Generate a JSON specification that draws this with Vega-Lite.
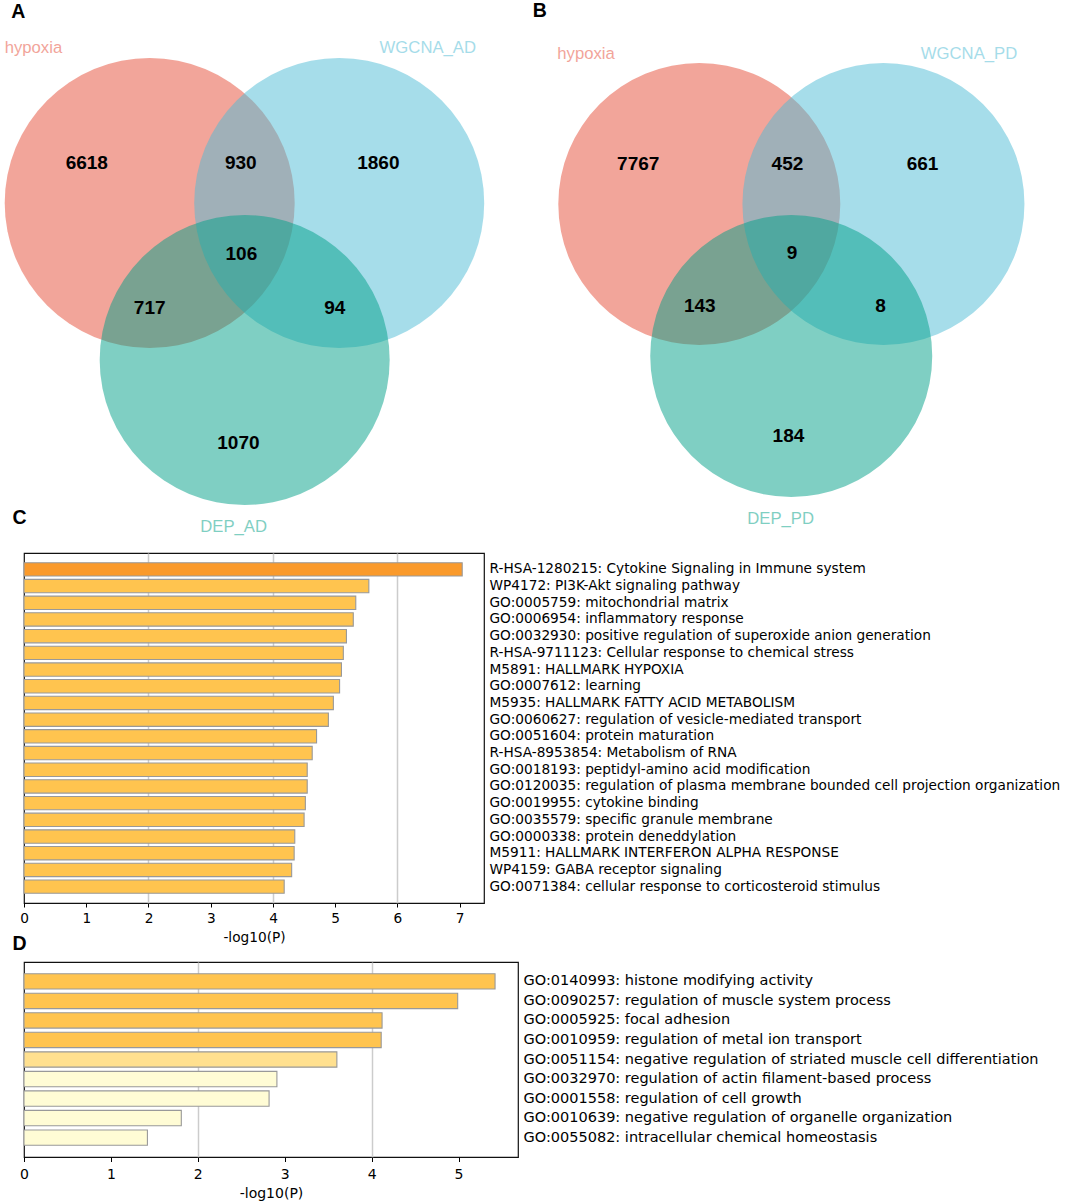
{
  "$schema": "https://vega.github.io/schema/vega-lite/v6.json",
  "background": "white",
  "padding": {"left": 4, "top": 0, "right": 0, "bottom": 3},
  "config": {
    "view": {"stroke": null},
    "axis": {"labelFont": "DejaVu Sans", "titleFont": "DejaVu Sans", "labelColor": "#000", "titleColor": "#000", "tickColor": "#000", "titleFontWeight": "normal"},
    "title": {"font": "Liberation Sans", "fontWeight": "bold", "fontSize": 19.5, "color": "#000", "anchor": "start", "frame": "group", "baseline": "alphabetic"}
  },
  "datasets": {
    "panelsA": [{"panel": "A", "x": -0.955, "y": 1.2738}],
    "setsA": [
      {"set": "hypoxia", "x": 0, "y": 0},
      {"set": "WGCNA_AD", "x": 1.307, "y": 0},
      {"set": "DEP_AD", "x": 0.655, "y": -1.083}
    ],
    "labelsA": [
      {"set": "hypoxia", "x": -0.802, "y": 1.069},
      {"set": "WGCNA_AD", "x": 1.918, "y": 1.069},
      {"set": "DEP_AD", "x": 0.579, "y": -2.234}
    ],
    "regionsA": [
      {"count": "6618", "x": -0.434, "y": 0.276},
      {"count": "930", "x": 0.628, "y": 0.276},
      {"count": "1860", "x": 1.577, "y": 0.276},
      {"count": "106", "x": 0.632, "y": -0.352},
      {"count": "717", "x": 0.0, "y": -0.724},
      {"count": "94", "x": 1.276, "y": -0.724},
      {"count": "1070", "x": 0.612, "y": -1.652}
    ],
    "panelsB": [{"panel": "B", "x": -1.1816, "y": 1.3227}],
    "setsB": [
      {"set": "hypoxia", "x": 0, "y": 0},
      {"set": "WGCNA_PD", "x": 1.306, "y": 0},
      {"set": "DEP_PD", "x": 0.652, "y": -1.078}
    ],
    "labelsB": [
      {"set": "hypoxia", "x": -0.803, "y": 1.064},
      {"set": "WGCNA_PD", "x": 1.913, "y": 1.064},
      {"set": "DEP_PD", "x": 0.577, "y": -2.234}
    ],
    "regionsB": [
      {"count": "7767", "x": -0.433, "y": 0.284},
      {"count": "452", "x": 0.625, "y": 0.284},
      {"count": "661", "x": 1.583, "y": 0.284},
      {"count": "9", "x": 0.658, "y": -0.348},
      {"count": "143", "x": 0.003, "y": -0.723},
      {"count": "8", "x": 1.285, "y": -0.723},
      {"count": "184", "x": 0.632, "y": -1.645}
    ],
    "enrichC": [
      {"term": "R-HSA-1280215: Cytokine Signaling in Immune system", "logp": 7.04},
      {"term": "WP4172: PI3K-Akt signaling pathway", "logp": 5.54},
      {"term": "GO:0005759: mitochondrial matrix", "logp": 5.33},
      {"term": "GO:0006954: inflammatory response", "logp": 5.29},
      {"term": "GO:0032930: positive regulation of superoxide anion generation", "logp": 5.18},
      {"term": "R-HSA-9711123: Cellular response to chemical stress", "logp": 5.13},
      {"term": "M5891: HALLMARK HYPOXIA", "logp": 5.10},
      {"term": "GO:0007612: learning", "logp": 5.07},
      {"term": "M5935: HALLMARK FATTY ACID METABOLISM", "logp": 4.97},
      {"term": "GO:0060627: regulation of vesicle-mediated transport", "logp": 4.89},
      {"term": "GO:0051604: protein maturation", "logp": 4.70},
      {"term": "R-HSA-8953854: Metabolism of RNA", "logp": 4.63},
      {"term": "GO:0018193: peptidyl-amino acid modification", "logp": 4.55},
      {"term": "GO:0120035: regulation of plasma membrane bounded cell projection organization", "logp": 4.55},
      {"term": "GO:0019955: cytokine binding", "logp": 4.52},
      {"term": "GO:0035579: specific granule membrane", "logp": 4.50},
      {"term": "GO:0000338: protein deneddylation", "logp": 4.35},
      {"term": "M5911: HALLMARK INTERFERON ALPHA RESPONSE", "logp": 4.34},
      {"term": "WP4159: GABA receptor signaling", "logp": 4.30},
      {"term": "GO:0071384: cellular response to corticosteroid stimulus", "logp": 4.18}
    ],
    "enrichD": [
      {"term": "GO:0140993: histone modifying activity", "logp": 5.42},
      {"term": "GO:0090257: regulation of muscle system process", "logp": 4.99},
      {"term": "GO:0005925: focal adhesion", "logp": 4.12},
      {"term": "GO:0010959: regulation of metal ion transport", "logp": 4.11},
      {"term": "GO:0051154: negative regulation of striated muscle cell differentiation", "logp": 3.60},
      {"term": "GO:0032970: regulation of actin filament-based process", "logp": 2.91},
      {"term": "GO:0001558: regulation of cell growth", "logp": 2.82},
      {"term": "GO:0010639: negative regulation of organelle organization", "logp": 1.81},
      {"term": "GO:0055082: intracellular chemical homeostasis", "logp": 1.42}
    ]
  },
  "spacing": 59,
  "bounds": "flush",
  "resolve": {"scale": {"color": "independent"}},
  "vconcat": [
    {
      "width": 1041.7,
      "height": 494,
      "view": {"fill": "white", "stroke": null},
      "resolve": {"scale": {"x": "independent", "y": "independent", "color": "independent"}},
      "layer": [
        {
          "layer": [
            {
              "data": {"name": "setsA"},
              "mark": {"type": "point", "shape": "circle", "filled": true, "opacity": 0.5, "size": 84100, "strokeWidth": 0},
              "encoding": {
                "x": {"field": "x", "type": "quantitative", "scale": {"domain": [-0.8669, 6.3172], "nice": false, "zero": false}, "axis": null},
                "y": {"field": "y", "type": "quantitative", "scale": {"domain": [-2.0069, 1.4], "nice": false, "zero": false}, "axis": null},
                "color": {"field": "set", "type": "nominal", "scale": {"domain": ["hypoxia", "WGCNA_AD", "DEP_AD"], "range": ["#E64B35", "#4DBBD5", "#00A087"]}, "legend": null}
              }
            },
            {
              "data": {"name": "labelsA"},
              "mark": {"type": "text", "font": "Liberation Sans", "fontSize": 16.7, "opacity": 0.5, "baseline": "middle", "align": "center"},
              "encoding": {
                "x": {"field": "x", "type": "quantitative"},
                "y": {"field": "y", "type": "quantitative"},
                "text": {"field": "set"},
                "color": {"field": "set", "type": "nominal", "legend": null}
              }
            },
            {
              "data": {"name": "regionsA"},
              "mark": {"type": "text", "font": "Liberation Sans", "fontSize": 19, "fontWeight": "bold", "color": "#000", "baseline": "middle", "align": "center"},
              "encoding": {
                "x": {"field": "x", "type": "quantitative"},
                "y": {"field": "y", "type": "quantitative"},
                "text": {"field": "count"}
              }
            },
            {
              "data": {"name": "panelsA"},
              "mark": {"type": "text", "font": "Liberation Sans", "fontSize": 19.5, "fontWeight": "bold", "color": "#000", "baseline": "alphabetic", "align": "left"},
              "encoding": {
                "x": {"field": "x", "type": "quantitative"},
                "y": {"field": "y", "type": "quantitative"},
                "text": {"field": "panel"}
              }
            }
          ]
        },
        {
          "layer": [
            {
              "data": {"name": "setsB"},
              "mark": {"type": "point", "shape": "circle", "filled": true, "opacity": 0.5, "size": 79524, "strokeWidth": 0},
              "encoding": {
                "x": {"field": "x", "type": "quantitative", "scale": {"domain": [-4.7894, 2.5986], "nice": false, "zero": false}, "axis": null},
                "y": {"field": "y", "type": "quantitative", "scale": {"domain": [-2.0567, 1.4468], "nice": false, "zero": false}, "axis": null},
                "color": {"field": "set", "type": "nominal", "scale": {"domain": ["hypoxia", "WGCNA_PD", "DEP_PD"], "range": ["#E64B35", "#4DBBD5", "#00A087"]}, "legend": null}
              }
            },
            {
              "data": {"name": "labelsB"},
              "mark": {"type": "text", "font": "Liberation Sans", "fontSize": 16.7, "opacity": 0.5, "baseline": "middle", "align": "center"},
              "encoding": {
                "x": {"field": "x", "type": "quantitative"},
                "y": {"field": "y", "type": "quantitative"},
                "text": {"field": "set"},
                "color": {"field": "set", "type": "nominal", "legend": null}
              }
            },
            {
              "data": {"name": "regionsB"},
              "mark": {"type": "text", "font": "Liberation Sans", "fontSize": 19, "fontWeight": "bold", "color": "#000", "baseline": "middle", "align": "center"},
              "encoding": {
                "x": {"field": "x", "type": "quantitative"},
                "y": {"field": "y", "type": "quantitative"},
                "text": {"field": "count"}
              }
            },
            {
              "data": {"name": "panelsB"},
              "mark": {"type": "text", "font": "Liberation Sans", "fontSize": 19.5, "fontWeight": "bold", "color": "#000", "baseline": "alphabetic", "align": "left"},
              "encoding": {
                "x": {"field": "x", "type": "quantitative"},
                "y": {"field": "y", "type": "quantitative"},
                "text": {"field": "panel"}
              }
            }
          ]
        }
      ]
    },
    {
      "width": 460,
      "height": 350,
      "view": {"stroke": "#111", "strokeWidth": 1.2},
      "title": {"text": "C", "offset": 24.7, "dx": -11.6},
      "data": {"name": "enrichC"},
      "mark": {"type": "bar", "stroke": "#999999", "strokeWidth": 1.1},
      "encoding": {
        "y": {
          "field": "term", "type": "nominal", "sort": null,
          "scale": {"paddingInner": 0.2, "paddingOuter": 0.58},
          "axis": {"orient": "right", "title": null, "ticks": false, "domain": false, "labelPadding": 5, "labelFontSize": 13.7, "labelLimit": 1000}
        },
        "x": {
          "field": "logp", "type": "quantitative",
          "scale": {"domain": [0, 7.39], "nice": false},
          "axis": {
            "values": [0, 1, 2, 3, 4, 5, 6, 7], "title": "-log10(P)", "domain": false, "labelFlush": false,
            "tickSize": 4, "tickWidth": 1, "labelPadding": 4, "labelFontSize": 13.7, "titleFontSize": 13.7, "titlePadding": 6,
            "grid": true, "gridColor": "#cccccc", "gridWidth": 1.5,
            "gridOpacity": {"condition": {"test": "datum.value > 0 && datum.value % 2 === 0", "value": 1}, "value": 0}
          }
        },
        "color": {
          "field": "logp", "type": "quantitative",
          "scale": {"type": "threshold", "domain": [3, 4, 6], "range": ["#FFFCD5", "#FFE08F", "#FFC44F", "#FA9A2B"]},
          "legend": null
        }
      }
    },
    {
      "width": 494,
      "height": 195,
      "view": {"stroke": "#111", "strokeWidth": 1.2},
      "title": {"text": "D", "offset": 7.6, "dx": -11.6},
      "data": {"name": "enrichD"},
      "mark": {"type": "bar", "stroke": "#999999", "strokeWidth": 1.1},
      "encoding": {
        "y": {
          "field": "term", "type": "nominal", "sort": null,
          "scale": {"paddingInner": 0.215, "paddingOuter": 0.6},
          "axis": {"orient": "right", "title": null, "ticks": false, "domain": false, "labelPadding": 5, "labelFontSize": 14.5, "labelLimit": 1000}
        },
        "x": {
          "field": "logp", "type": "quantitative",
          "scale": {"domain": [0, 5.684], "nice": false},
          "axis": {
            "values": [0, 1, 2, 3, 4, 5], "title": "-log10(P)", "domain": false, "labelFlush": false,
            "tickSize": 4.5, "tickWidth": 1, "labelPadding": 6, "labelFontSize": 14, "titleFontSize": 14, "titlePadding": 5,
            "grid": true, "gridColor": "#cccccc", "gridWidth": 1.5,
            "gridOpacity": {"condition": {"test": "datum.value > 0 && datum.value % 2 === 0", "value": 1}, "value": 0}
          }
        },
        "color": {
          "field": "logp", "type": "quantitative",
          "scale": {"type": "threshold", "domain": [3, 4, 6], "range": ["#FFFCD5", "#FFE08F", "#FFC44F", "#FA9A2B"]},
          "legend": null
        }
      }
    }
  ]
}
